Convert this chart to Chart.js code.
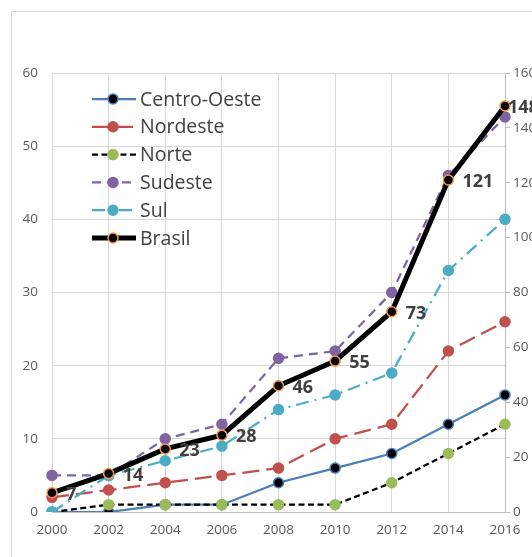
<!DOCTYPE html>
<html>
<head>
<meta charset="utf-8">
<script src="https://cdn.jsdelivr.net/npm/chart.js@4.4.1/dist/chart.umd.min.js"></script>
<style>
  html, body { margin: 0; padding: 0; background: #fff; overflow: hidden; }
  #chart { display: block; }
</style>
</head>
<body>
<canvas id="chart" width="532" height="557"></canvas>
<script>
// years on the x axis
const years = ["2000", "2002", "2004", "2006", "2008", "2010", "2012", "2014", "2016"];

// regions (left axis)
const centroOeste = [0, 0, 1, 1, 4, 6, 8, 12, 16];
const nordeste    = [2, 3, 4, 5, 6, 10, 12, 22, 26];
const norte       = [0, 1, 1, 1, 1, 1, 4, 8, 12];
const sudeste     = [5, 5, 10, 12, 21, 22, 30, 46, 54];
const sul         = [0, 5, 7, 9, 14, 16, 19, 33, 40];

// Brasil total (right axis)
const brasil = [7, 14, 23, 28, 46, 55, 73, 121, 148];

const FONT = "Open Sans";

function series(label, data, color, dash, fill, order) {
  return {
    label: label,
    data: data,
    borderColor: color,
    borderWidth: 2.25,
    borderDash: dash,
    pointRadius: 5,
    pointHoverRadius: 5,
    pointBackgroundColor: fill,
    pointBorderColor: color === "#000000" ? fill : color,
    pointBorderWidth: 1.5,
    tension: 0,
    yAxisID: "y",
    order: order
  }
}

const datasets = [
  series("Centro-Oeste", centroOeste, "#4A7EBB", [], "#000000", 6),
  series("Nordeste", nordeste, "#C0504D", [17, 7], "#C0504D", 5),
  series("Norte", norte, "#000000", [6, 3.5], "#9BBB59", 4),
  series("Sudeste", sudeste, "#8064A2", [9, 6], "#8064A2", 3),
  series("Sul", sul, "#4BACC6", [13, 6, 2, 6], "#4BACC6", 2),
  {
    label: "Brasil",
    data: brasil,
    borderColor: "#000000",
    borderWidth: 5,
    pointRadius: 5,
    pointHoverRadius: 5,
    pointBackgroundColor: "#000000",
    pointBorderColor: "#F79646",
    pointBorderWidth: 1.5,
    tension: 0,
    yAxisID: "y1",
    order: 1
  }
];

// white page + the light frame of the chart box (cut off right/bottom like the picture)
const framePlugin = {
  id: "frame",
  beforeDraw(chart) {
    const ctx = chart.ctx;
    ctx.save();
    ctx.fillStyle = "#ffffff";
    ctx.fillRect(0, 0, chart.width, chart.height);
    ctx.strokeStyle = "#D9D9D9";
    ctx.lineWidth = 1;
    ctx.strokeRect(11.5, 11.5, 1000, 1000);
    ctx.restore();
  }
};

// bold value labels next to the Brasil points
const brasilLabels = {
  id: "brasilLabels",
  afterDatasetsDraw(chart) {
    const ctx = chart.ctx;
    const idx = chart.data.datasets.findIndex(d => d.label === "Brasil");
    const meta = chart.getDatasetMeta(idx);
    ctx.save();
    ctx.font = "bold 18px '" + FONT + "'";
    ctx.fillStyle = "#404040";
    ctx.textAlign = "left";
    ctx.textBaseline = "middle";
    meta.data.forEach((pt, i) => {
      // excel squeezes the last label against the plot edge
      const lx = Math.min(pt.x + 14, chart.chartArea.right + 3);
      ctx.fillText(String(chart.data.datasets[idx].data[i]), lx, pt.y + 2);
    });
    ctx.restore();
  }
};

// excel-like legend sitting inside the plot, top left
const insideLegend = {
  id: "insideLegend",
  afterDraw(chart) {
    const ctx = chart.ctx;
    const x0 = 92, x1 = 136, mx = 113, tx = 140;
    let y = 99;
    ctx.save();
    chart.data.datasets.forEach(ds => {
      ctx.beginPath();
      ctx.setLineDash(ds.borderDash || []);
      ctx.lineDashOffset = 0;
      ctx.strokeStyle = ds.borderColor;
      ctx.lineWidth = ds.borderWidth;
      ctx.moveTo(x0, y);
      ctx.lineTo(x1, y);
      ctx.stroke();
      ctx.setLineDash([]);
      ctx.beginPath();
      ctx.arc(mx, y, ds.pointRadius, 0, Math.PI * 2);
      ctx.fillStyle = ds.pointBackgroundColor;
      ctx.fill();
      ctx.lineWidth = ds.pointBorderWidth;
      ctx.strokeStyle = ds.pointBorderColor;
      ctx.stroke();

      ctx.font = "19.5px '" + FONT + "'";
      ctx.fillStyle = "#404040";
      ctx.textAlign = "left";
      ctx.textBaseline = "middle";
      ctx.fillText(ds.label, tx, y + 1);
      y += 27.8;
    });
    ctx.restore();
  }
};

Chart.defaults.font.family = FONT;
Chart.defaults.color = "#595959";

new Chart(document.getElementById("chart"), {
  type: "line",
  data: { labels: years, datasets: datasets },
  options: {
    responsive: false,
    animation: false,
    devicePixelRatio: 1,
    layout: { padding: { top: 73, left: 0, right: 0, bottom: 0 } },
    plugins: {
      legend: { display: false },
      tooltip: { enabled: false }
    },
    scales: {
      x: {
        grid: { color: "#D9D9D9", drawTicks: false },
        border: { color: "#BFBFBF" },
        ticks: { font: { size: 13.5 }, padding: 10, maxRotation: 0 },
        afterFit: s => { s.height = 45 }
      },
      y: {
        position: "left",
        min: 0, max: 60,
        ticks: { stepSize: 10, font: { size: 13.5 }, padding: 14 },
        grid: { color: "#D9D9D9", drawTicks: false },
        border: { color: "#D9D9D9" },
        afterFit: s => { s.width = 52 }
      },
      y1: {
        position: "right",
        min: 0, max: 160,
        ticks: { stepSize: 20, font: { size: 13.5 }, padding: 3 },
        grid: { drawOnChartArea: false, color: "#BFBFBF", tickLength: 5 },
        border: { color: "#BFBFBF" },
        afterFit: s => { s.width = 27 }
      }
    }
  },
  plugins: [framePlugin, brasilLabels, insideLegend]
});
</script>
</body>
</html>
